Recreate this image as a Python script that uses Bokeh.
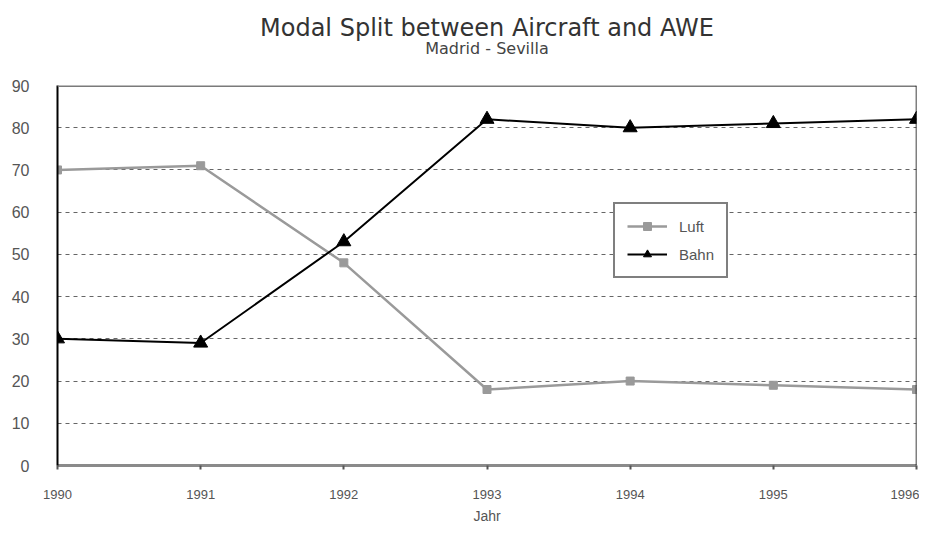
from bokeh.plotting import figure
from bokeh.models import Range1d, FixedTicker, Span, Legend, LegendItem, Title
from bokeh.embed import file_html
from bokeh.resources import INLINE

years = [1990, 1991, 1992, 1993, 1994, 1995, 1996]
luft = [70, 71, 48, 18, 20, 19, 18]
bahn = [30, 29, 53, 82, 80, 81, 82]
y_ticks = [0, 10, 20, 30, 40, 50, 60, 70, 80, 90]
title_text = "Modal Split between Aircraft and AWE"
subtitle_text = "Madrid - Sevilla"
x_label = "Jahr"

FONT = "DejaVu Sans"
TICK_FONT = "Liberation Sans"

p = figure(width=919, height=527, output_backend="svg", toolbar_location=None,
           x_range=Range1d(1990, 1996), y_range=Range1d(0, 90),
           min_border_left=57, min_border_right=3, min_border_top=85, min_border_bottom=62)
p.title = None
p.background_fill_color = "white"
p.border_fill_color = "white"
p.outline_line_color = None

# axes
p.xaxis.ticker = FixedTicker(ticks=years)
p.yaxis.ticker = FixedTicker(ticks=y_ticks)
p.xaxis.axis_line_color = "#8a8a8a"
p.xaxis.axis_line_width = 3
p.xaxis.major_tick_line_color = "#555555"
p.xaxis.major_tick_line_width = 2
p.xaxis.major_tick_out = 4
p.xaxis.major_tick_in = 0
p.xaxis.minor_tick_line_color = None
p.xaxis.major_label_standoff = 20
p.xaxis.major_label_text_font = TICK_FONT
p.xaxis.major_label_text_font_size = "13px"
p.xaxis.major_label_text_color = "#555555"
p.xaxis.axis_label = x_label
p.xaxis.axis_label_text_font = TICK_FONT
p.xaxis.axis_label_text_font_size = "14px"
p.xaxis.axis_label_text_font_style = "normal"
p.xaxis.axis_label_text_color = "#555555"
p.xaxis.axis_label_standoff = 6

p.yaxis.axis_line_color = "#000000"
p.yaxis.axis_line_width = 2
p.yaxis.major_tick_line_color = None
p.yaxis.minor_tick_line_color = None
p.yaxis.major_label_standoff = 22
p.yaxis.major_label_text_font = TICK_FONT
p.yaxis.major_label_text_font_size = "16px"
p.yaxis.major_label_text_color = "#555555"

p.xgrid.grid_line_color = None
p.ygrid.ticker = FixedTicker(ticks=y_ticks[1:-1])
p.ygrid.grid_line_color = "#666666"
p.ygrid.grid_line_dash = "4 4"
p.ygrid.grid_line_width = 1

p.add_layout(Span(location=90, dimension="width", line_color="#7a7a7a", line_width=3))
p.add_layout(Span(location=1996, dimension="height", line_color="#000000", line_width=1.5))

# series
l1 = p.line(years, luft, line_color="#9a9a9a", line_width=2.5)
s1 = p.scatter(years, luft, marker="square", size=8, fill_color="#9a9a9a", line_color="#9a9a9a")
l2 = p.line(years, bahn, line_color="#000000", line_width=2)
s2 = p.scatter(years, bahn, marker="triangle", size=14, fill_color="#000000", line_color="#000000")

legend = Legend(items=[LegendItem(label="Luft", renderers=[l1, s1]),
                       LegendItem(label="Bahn", renderers=[l2, s2])],
                location=(556, 187))
legend.border_line_color = "#000000"
legend.border_line_width = 2
legend.label_text_font = TICK_FONT
legend.label_text_font_size = "15px"
legend.label_text_color = "#555555"
legend.glyph_width = 40
legend.label_standoff = 12
legend.spacing = 8
legend.padding = 12
legend.margin = 0
legend.background_fill_alpha = 1
p.add_layout(legend, "center")

# titles (first added is nearest to the frame)
p.add_layout(Title(text=subtitle_text, align="center", text_font=FONT,
                   text_font_size="16px", text_font_style="normal",
                   text_color="#444444", standoff=56), "above")
p.add_layout(Title(text=title_text, align="center", text_font=FONT,
                   text_font_size="24px", text_font_style="normal",
                   text_color="#333333", standoff=-67), "above")

open("out.html", "w").write(file_html(p, INLINE))
